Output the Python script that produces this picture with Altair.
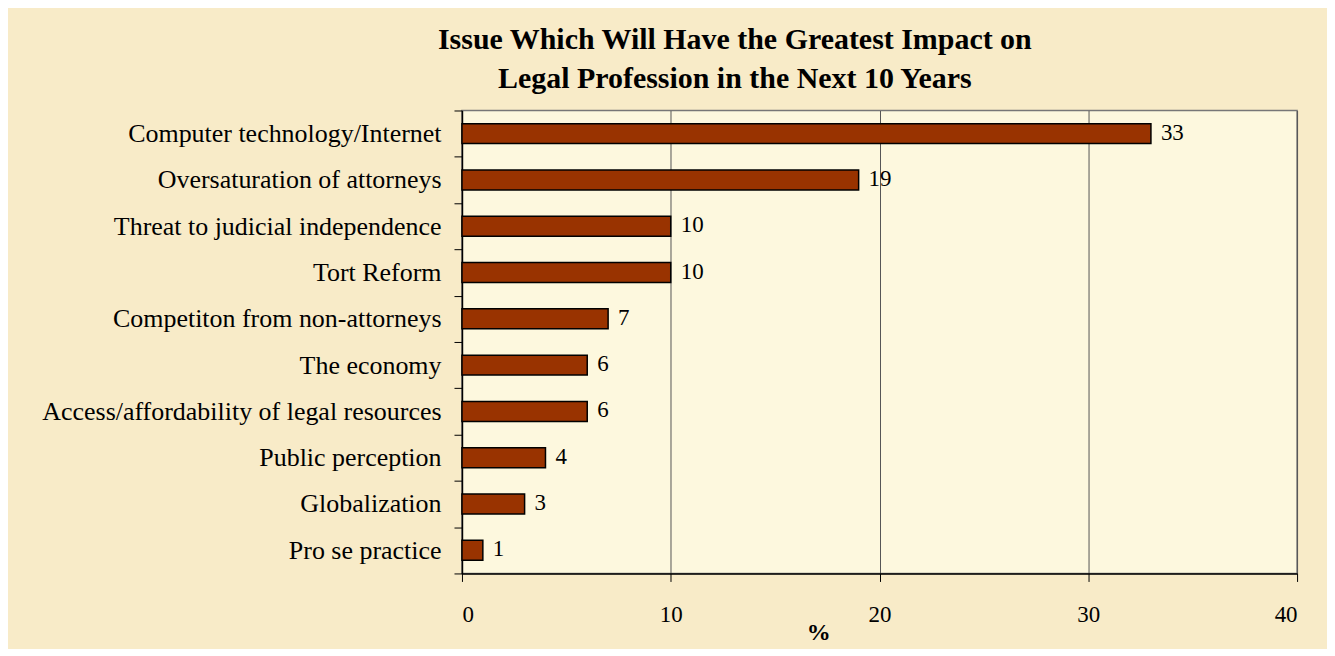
import altair as alt
import pandas as pd

categories = [
    "Computer technology/Internet",
    "Oversaturation of attorneys",
    "Threat to judicial independence",
    "Tort Reform",
    "Competiton from non-attorneys",
    "The economy",
    "Access/affordability of legal resources",
    "Public perception",
    "Globalization",
    "Pro se practice",
]
values = [33, 19, 10, 10, 7, 6, 6, 4, 3, 1]
x_ticks = [0, 10, 20, 30, 40]

df = pd.DataFrame({"issue": categories, "pct": values})

FONT = "Liberation Serif"

y_enc = alt.Y(
    "issue:N",
    sort=categories,
    title=None,
    scale=alt.Scale(paddingInner=0, paddingOuter=0),
    axis=alt.Axis(
        labelFont=FONT,
        labelFontSize=26,
        labelColor="#000000",
        labelPadding=13,
        labelLimit=600,
        tickBand="extent",
        tickSize=8,
        tickColor="#000000",
        domainColor="#000000",
        domainWidth=1.5,
        grid=False,
    ),
)

x_enc = alt.X(
    "pct:Q",
    scale=alt.Scale(domain=[0, 40], nice=False),
    axis=alt.Axis(
        values=x_ticks,
        title="%",
        titleFont=FONT,
        titleFontSize=24,
        titleFontWeight="bold",
        titleColor="#000000",
        titleX=357,
        titleY=66,
        titleBaseline="alphabetic",
        labelFont=FONT,
        labelFontSize=23,
        labelColor="#000000",
        labelPadding=22,
        tickSize=8,
        tickColor="#000000",
        domainColor="#000000",
        domainWidth=1.5,
        grid=True,
        gridColor="#555555",
        gridWidth=1,
    ),
)

bars = alt.Chart(df).mark_bar(
    color="#993300", stroke="#000000", strokeWidth=1.5, height=20
).encode(x=x_enc, y=y_enc)

labels = alt.Chart(df).mark_text(
    align="left", baseline="middle", dx=10, dy=-1,
    font=FONT, fontSize=23, color="#000000"
).encode(x="pct:Q", y=alt.Y("issue:N", sort=categories), text="pct:Q")

chart = (
    alt.layer(bars, labels)
    .properties(
        width=837,
        height=464,
        background="#f8ebc8",
        padding={"left": 455, "top": 102, "right": 30, "bottom": 75},
        autosize=alt.AutoSizeParams(type="none"),
        title=alt.TitleParams(
            text=["Issue Which Will Have the Greatest Impact on",
                  "Legal Profession in the Next 10 Years"],
            font=FONT,
            fontSize=30,
            fontWeight="bold",
            color="#000000",
            anchor="middle",
            frame="group",
            dx=-145,
            lineHeight=39,
            offset=4,
        ),
    )
    .configure_view(fill="#fdf8de", stroke="#777777", strokeWidth=1.5)
)

chart.save("out.html", embed_options={"renderer": "svg", "actions": False})
